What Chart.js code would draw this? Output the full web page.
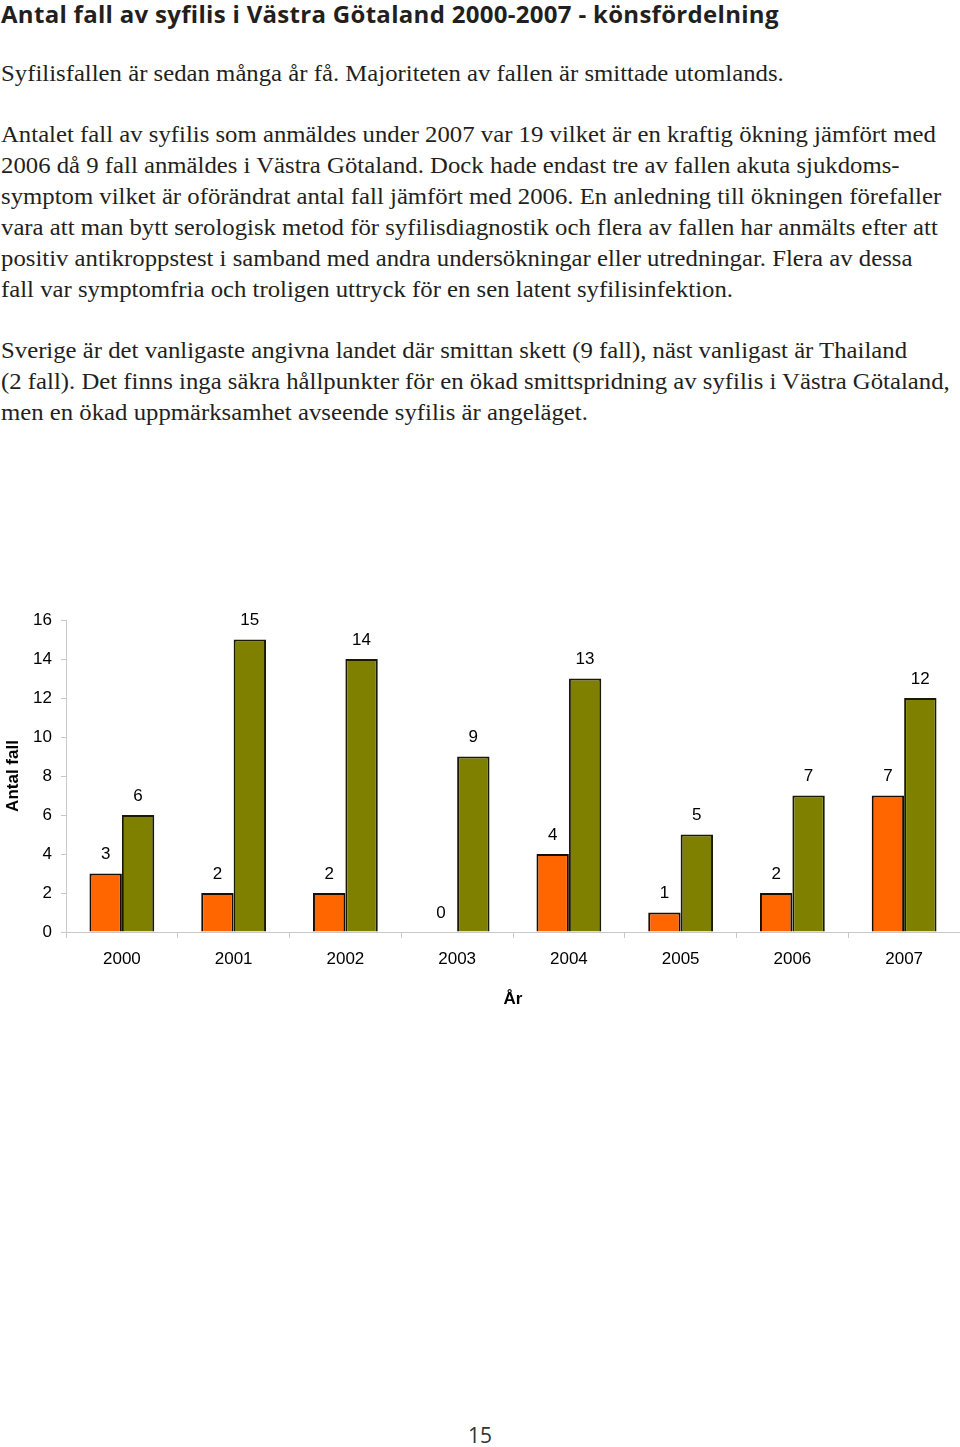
<!DOCTYPE html>
<html>
<head>
<meta charset="utf-8">
<script src="https://cdn.jsdelivr.net/npm/chart.js@4"></script>
<style>
  html, body { margin: 0; padding: 0; background: #fff; }
  body { width: 960px; height: 1447px; position: relative; overflow: hidden; color: #231f20; }
  h1 { position: absolute; left: 1px; top: 0px; margin: 0; font-family: "Open Sans", "DejaVu Sans", sans-serif; font-weight: 700; font-size: 24px; line-height: 28px; letter-spacing: 0.3px; white-space: nowrap; }
  .txt { position: absolute; left: 1px; margin: 0; font-family: "Liberation Serif", "Times New Roman", serif; font-size: 22.5px; line-height: 31px; white-space: nowrap; transform: scaleX(1.1); transform-origin: 0 0; }
  #chartWrap { position: absolute; left: 0; top: 600px; width: 960px; height: 420px; }
  #pageno { position: absolute; left: 0; width: 960px; top: 1421px; text-align: center; font-family: "Open Sans", sans-serif; font-size: 21px; color: #333; }
</style>
</head>
<body>
<h1>Antal fall av syfilis i Västra Götaland 2000-2007 - könsfördelning</h1>
<p class="txt" style="top:58px">Syfilisfallen är sedan många år få. Majoriteten av fallen är smittade utomlands.</p>
<p class="txt" style="top:119px">Antalet fall av syfilis som anmäldes under 2007 var 19 vilket är en kraftig ökning jämfört med<br>2006 då 9 fall anmäldes i Västra Götaland. Dock hade endast tre av fallen akuta sjukdoms-<br>symptom vilket är oförändrat antal fall jämfört med 2006. En anledning till ökningen förefaller<br>vara att man bytt serologisk metod för syfilisdiagnostik och flera av fallen har anmälts efter att<br>positiv antikroppstest i samband med andra undersökningar eller utredningar. Flera av dessa<br>fall var symptomfria och troligen uttryck för en sen latent syfilisinfektion.</p>
<p class="txt" style="top:335px">Sverige är det vanligaste angivna landet där smittan skett (9 fall), näst vanligast är Thailand<br>(2 fall). Det finns inga säkra hållpunkter för en ökad smittspridning av syfilis i Västra Götaland,<br>men en ökad uppmärksamhet avseende syfilis är angeläget.</p>
<div id="chartWrap"><canvas id="c" width="960" height="420"></canvas></div>
<div id="pageno">15</div>
<script>
const years = ["2000","2001","2002","2003","2004","2005","2006","2007"];
const kvinnor = [3, 2, 2, 0, 4, 1, 2, 7];
const man = [6, 15, 14, 9, 13, 5, 7, 12];
const yTicks = [0, 2, 4, 6, 8, 10, 12, 14, 16];

const valueLabels = {
  id: 'valueLabels',
  afterDatasetsDraw(chart) {
    const ctx = chart.ctx;
    ctx.save();
    ctx.font = '17px "Liberation Sans", Arial, sans-serif';
    ctx.fillStyle = '#000';
    ctx.textAlign = 'center';
    ctx.textBaseline = 'middle';
    chart.data.datasets.forEach((ds, i) => {
      chart.getDatasetMeta(i).data.forEach((bar, j) => {
        ctx.fillText(String(ds.data[j]), bar.x, bar.y - 19);
      });
    });
    ctx.restore();
  }
};

new Chart(document.getElementById('c'), {
  type: 'bar',
  data: {
    labels: years,
    datasets: [
      { label: 'Kvinnor', data: kvinnor, backgroundColor: '#ff6600', borderColor: '#1a0d00', borderWidth: 2, borderSkipped: 'bottom' },
      { label: 'Män', data: man, backgroundColor: '#808000', borderColor: '#1a1a00', borderWidth: 2, borderSkipped: 'bottom' }
    ]
  },
  options: {
    responsive: false,
    animation: false,
    devicePixelRatio: 1,
    layout: { padding: { top: 20, right: 0, left: 0, bottom: 0 } },
    plugins: { legend: { display: false }, tooltip: { enabled: false } },
    datasets: { bar: { categoryPercentage: 0.58, barPercentage: 1.0 } },
    scales: {
      x: {
        offset: true,
        grid: { offset: true, drawOnChartArea: false, drawTicks: true, tickLength: 6, color: '#c8c8c8' },
        border: { color: '#c8c8c8', width: 1 },
        ticks: { color: '#000', font: { size: 17, family: '"Liberation Sans", Arial, sans-serif' }, padding: 11, maxRotation: 0 },
        title: { display: true, text: 'År', color: '#000', font: { size: 17, weight: 'bold', family: '"Liberation Sans", Arial, sans-serif' }, padding: { top: 7, bottom: 10 } },
        afterFit(s) { s.height = 88; }
      },
      y: {
        min: 0, max: 16,
        afterBuildTicks(s) { s.ticks = yTicks.map(v => ({ value: v })); },
        grid: { drawOnChartArea: false, drawTicks: true, tickLength: 5, color: '#c8c8c8' },
        border: { color: '#c8c8c8', width: 1 },
        ticks: { color: '#000', font: { size: 17, family: '"Liberation Sans", Arial, sans-serif' }, padding: 9 },
        title: { display: true, text: 'Antal fall', color: '#000', font: { size: 17, weight: 'bold', family: '"Liberation Sans", Arial, sans-serif' }, padding: 3 },
        afterFit(s) { s.width = 66; }
      }
    }
  },
  plugins: [valueLabels]
});
</script>
</body>
</html>
